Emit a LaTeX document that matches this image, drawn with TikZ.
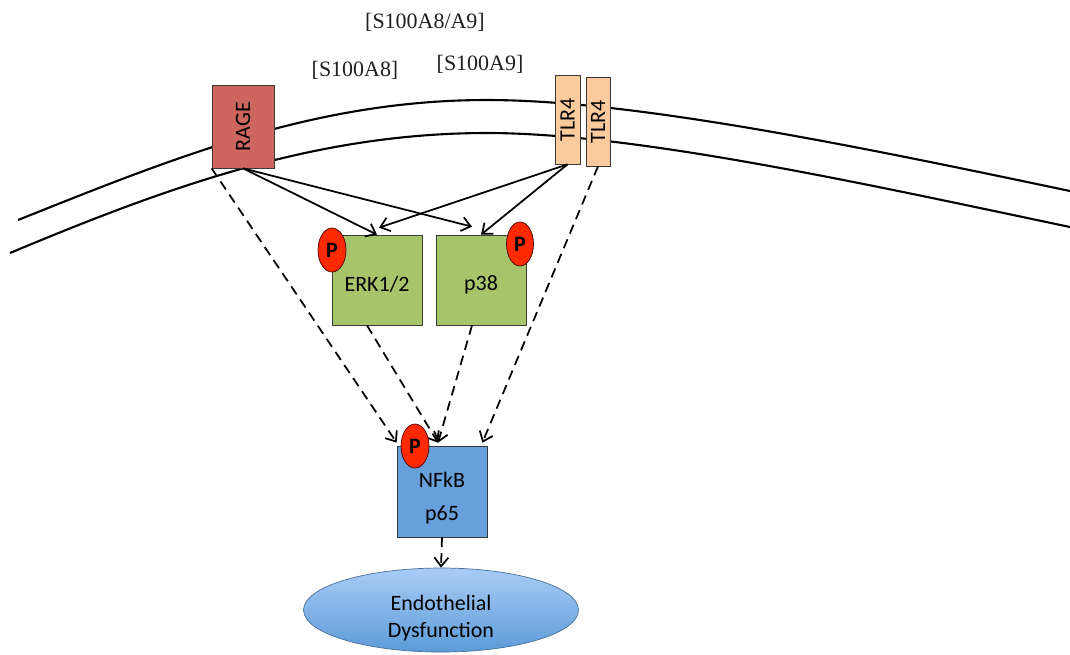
\documentclass[tikz,border=0pt]{standalone}
\usepackage{fontspec}
\setsansfont{Carlito}
\newfontfamily\labelfont{Liberation Serif}
\usepackage{tikz}
\usepackage{xcolor}
\usetikzlibrary{arrows.meta,shapes.geometric}
\definecolor{rage-red}{HTML}{CD665F}
\definecolor{tlr-peach}{HTML}{FBCB9E}
\definecolor{kinase-green}{HTML}{A8C46A}
\definecolor{nfkb-blue}{HTML}{68A0DC}
\definecolor{phospho-red}{HTML}{FF2A00}
\definecolor{box-edge}{HTML}{3A3A3A}
\definecolor{endo-top}{HTML}{A9CCF6}
\definecolor{endo-bottom}{HTML}{5C9BD8}
\newcommand{\lowtext}[2]{\raisebox{#1}[0pt][0pt]{\begin{tabular}{@{}c@{}}#2\end{tabular}}}
\tikzset{
    receptor-box/.style = {draw=box-edge, thin, rectangle, inner sep=0pt, font=\sffamily\fontsize{12.5}{15}\selectfont},
    kinase-box/.style = {draw=box-edge, thin, fill=kinase-green, rectangle, minimum width=1.8cm, minimum height=1.8cm, text height=14pt, font=\sffamily\fontsize{12.5}{15}\selectfont},
    phospho/.style = {draw=black!70!red, thin, fill=phospho-red, ellipse, inner sep=0pt, minimum width=0.56cm, minimum height=0.88cm, font=\sffamily\bfseries\fontsize{12.5}{15}\selectfont},
    ligand/.style = {text=black!88, font=\labelfont\fontsize{12.5}{15}\selectfont},
    membrane/.style = {line width=1.2pt},
    signal/.style = {line width=1pt, -{Straight Barb[length=5pt,width=8pt]}},
    indirect/.style = {signal, dash pattern=on 5.5pt off 3.5pt},
}
\begin{document}
\begin{tikzpicture}[x=0.02cm, y=-0.02cm]
\useasboundingbox (0,0) rectangle (1070,654);
\draw[membrane] (18,220) .. controls (178,156) and (317,100) .. (487,100) .. controls (637,100) and (870,149) .. (1070,191);
\draw[membrane] (10,253) .. controls (170,186) and (317,133) .. (487,133) .. controls (637,133) and (870,185) .. (1070,227);

\node[ligand] (dimer) at (425,22) {[S100A8/A9]};
\node[ligand] (a8) at (355,70) {[S100A8]};
\node[ligand] (a9) at (480,64) {[S100A9]};

\node[receptor-box, fill=rage-red, minimum width=1.24cm, minimum height=1.66cm] (rage) at (243,126.5) {\rotatebox{90}{RAGE}};
\node[receptor-box, fill=tlr-peach, minimum width=0.5cm, minimum height=1.78cm] (tlr-a) at (567.5,119.5) {\rotatebox{90}{TLR4}};
\node[receptor-box, fill=tlr-peach, minimum width=0.48cm, minimum height=1.78cm] (tlr-b) at (598,121.5) {\rotatebox{90}{TLR4}};

\node[kinase-box] (erk) at (377,280) {ERK1/2};
\node[kinase-box] (p38) at (481,280) {p38};
\node[kinase-box, fill=nfkb-blue, minimum height=1.82cm, text height=] (nfkb) at (442,491.5) {\lowtext{-7.1pt}{NFkB\\[3.8pt]p65}};
\node[draw=nfkb-blue!70!black, thin, ellipse, top color=endo-top, bottom color=endo-bottom, minimum width=5.5cm, minimum height=1.68cm, font=\sffamily\fontsize{12.5}{15}\selectfont] (endo) at (441,610) {\lowtext{-7.9pt}{Endothelial\\Dysfunction}};

\draw[signal] (rage.south) -- (erk.north);
\draw[signal] (rage.south) -- ([shift={(-9,-8)}]p38.north);
\draw[signal] (tlr-a.south) -- ([shift={(2,-7)}]erk.north);
\draw[signal] (tlr-a.south) -- (p38.north);

\draw[indirect] (rage.south west) -- ([shift={(0,-3)}]nfkb.north west);
\draw[indirect] ([xshift=-0.2cm]erk.south) -- ([shift={(-4,-3)}]nfkb.north);
\draw[indirect] ([xshift=-0.18cm]p38.south) -- ([shift={(-4,-3)}]nfkb.north);
\draw[indirect] (tlr-b.south) -- ([shift={(-5,-3)}]nfkb.north east);
\draw[indirect] (nfkb.south) -- (endo.north);

\node[phospho] (erk-p) at (332,250) {P};
\node[phospho, minimum width=0.54cm] (p38-p) at (520,244) {P};
\node[phospho] (nfkb-p) at (415,446) {P};
\end{tikzpicture}
\end{document}
